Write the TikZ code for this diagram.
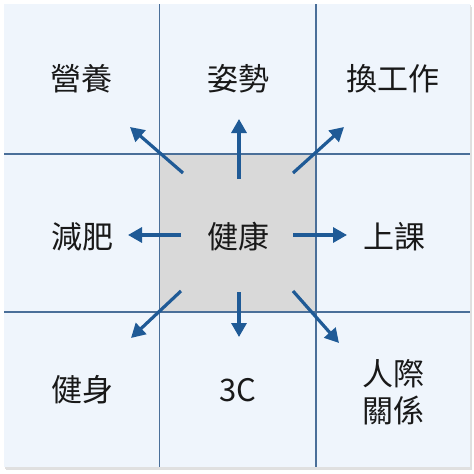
\documentclass[tikz,border=0pt]{standalone}
\usepackage{fontspec}
\setmainfont{Noto Sans CJK TC}
\usetikzlibrary{arrows.meta}
\definecolor{cellbg}{HTML}{EFF5FC}
\definecolor{gridc}{HTML}{4A6F99}
\definecolor{arrc}{HTML}{1F5A96}
\definecolor{midbg}{HTML}{D9D9D9}
\tikzset{
  lbl/.style={font=\fontsize{31}{37}\selectfont, text=black!90, align=center, inner sep=0pt},
  gridline/.style={draw=gridc, line width=1.1pt},
  arr/.style={draw=arrc, line width=3.2pt, -{Triangle[length=14pt,width=15pt]}}
}
\begin{document}
\begin{tikzpicture}[x=1pt,y=-1pt]
\useasboundingbox (0,0) rectangle (474,474);
\fill[black!25, opacity=0.5] (6,7) rectangle (472,470);
\fill[black!12] (5,5) rectangle (471,469);
\fill[cellbg] (4,4) rectangle (470,467);
\fill[midbg] (159.5,154) rectangle (316,312);
\draw[gridline] (159.5,4) -- (159.5,467);
\draw[gridline] (316,4) -- (316,467);
\draw[gridline] (4,154) -- (470,154);
\draw[gridline] (4,312) -- (470,312);
\node[lbl] (c) at (238,237) {健康};
\node[lbl] (nw) at (81,79) {營養};
\node[lbl] (n) at (238,79) {姿勢};
\node[lbl] (ne) at (393,79) {換工作};
\node[lbl] (w) at (82,237) {減肥};
\node[lbl] (e) at (394,237) {上課};
\node[lbl] (sw) at (82,390) {健身};
\node[lbl] (s) at (238,390) {3C};
\node[lbl] (se) at (393,392) {人際\\關係};
\coordinate (nwS) at (183,173); \coordinate (nwT) at (130,127);
\coordinate (nS) at (239,179); \coordinate (nT) at (239,119);
\coordinate (neS) at (293,173); \coordinate (neT) at (344,127);
\coordinate (wS) at (181,235); \coordinate (wT) at (128,235);
\coordinate (eS) at (293,235); \coordinate (eT) at (347,235);
\coordinate (swS) at (181,291); \coordinate (swT) at (131,338);
\coordinate (sS) at (239,292); \coordinate (sT) at (239,337);
\coordinate (seS) at (293,291); \coordinate (seT) at (339,343);
\draw[arr] (nwS) -- (nwT);
\draw[arr] (nS) -- (nT);
\draw[arr] (neS) -- (neT);
\draw[arr] (wS) -- (wT);
\draw[arr] (eS) -- (eT);
\draw[arr] (swS) -- (swT);
\draw[arr] (sS) -- (sT);
\draw[arr] (seS) -- (seT);
\end{tikzpicture}
\end{document}
